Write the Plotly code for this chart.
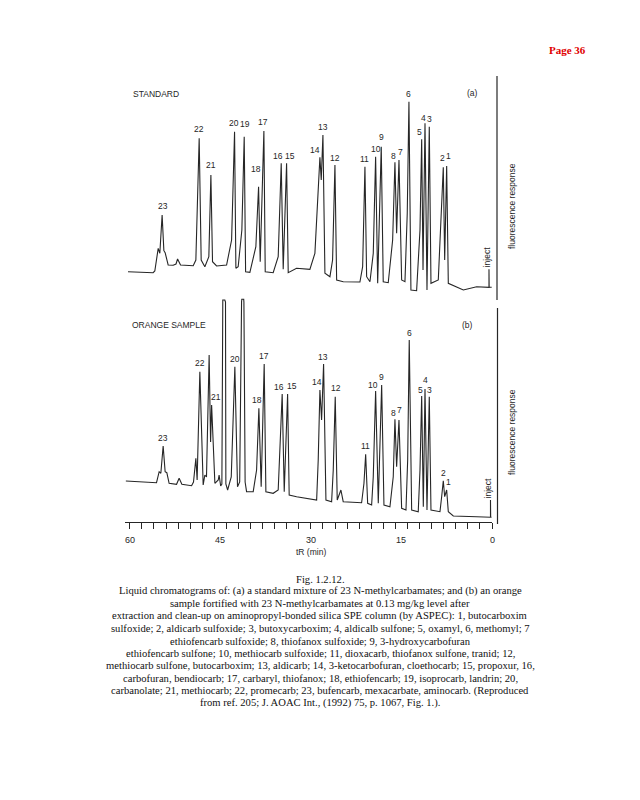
import plotly.graph_objects as go

# the page body has an 8 px margin, so the figure is sized to fit the 640x800 window
OFF = 8
W, H = 640 - 2 * OFF, 800 - 2 * OFF

# ---------------- data ----------------
# (a) STANDARD chromatogram: retention time (min) and response (arb. units)
top_t = [60.3, 56.14, 55.86, 55.3, 55.03, 54.65, 54.36, 54.15, 53.65, 52.82, 52.35, 52.09, 51.6,
         49.5, 49.06, 48.51, 48.18, 47.57, 46.91, 46.57, 46.3, 45.63, 43.97, 43.14, 42.65, 42.43,
         42.05, 41.44, 41.05, 40.82, 40.11, 39.12, 38.67, 38.4, 37.79, 37.57, 36.25, 35.42, 34.92,
         34.59, 34.03, 33.76, 32.38, 30.17, 29.34, 28.79, 28.51, 28.29, 28.01, 27.68, 26.85, 26.41,
         26.02, 25.74, 24.64, 21.88, 21.43, 21.05, 20.77, 20.22, 19.67, 19.28, 18.94, 18.35, 18.02,
         17.19, 16.46, 16.08, 15.8, 15.41, 14.97, 14.42, 14.04, 13.76, 13.43, 12.49, 11.93, 11.65,
         11.43, 11.1, 10.77, 10.39, 10.11, 8.9, 8.34, 8.07, 7.84, 7.51, 7.24, 5.3, 4.75, 2.54, 0.88,
         0.5, 0.5, 0.47, 0.05]
top_r = [24.3, 23.3, 25.0, 47.7, 42.7, 81.0, 45.3, 43.3, 31.0, 30.7, 32.0, 37.0, 31.0,
         30.3, 36.0, 157.7, 36.0, 29.3, 39.3, 121.0, 34.3, 30.0, 31.0, 56.0, 164.3, 27.7,
         29.3, 66.0, 159.3, 24.3, 23.7, 49.3, 109.3, 34.3, 165.0, 24.3, 23.3, 39.3, 132.7,
         26.7, 132.7, 23.3, 27.7, 26.7, 42.7, 116.0, 138.7, 116.0, 161.0, 22.7, 19.3, 36.0,
         131.0, 16.0, 14.3, 14.0, 29.3, 129.3, 19.3, 14.3, 42.7, 139.3, 12.7, 149.3, 14.3,
         13.3, 56.0, 133.7, 62.7, 136.0, 16.0, 14.3, 82.7, 194.3, 6.0, 5.3, 66.0, 156.7,
         26.0, 172.7, 6.0, 169.3, 12.7, 16.0, 82.7, 128.7, 36.0, 130.0, 12.7, 7.7, 6.0, 9.3, 8.7,
         8.7, 26.7, 8.7, 8.7]

# (b) ORANGE SAMPLE chromatogram
bot_t = [60.66, 55.58, 55.14, 54.86, 54.48, 54.15, 53.87, 53.49, 52.26, 51.83, 51.38, 49.77,
         49.45, 49.06, 48.85, 48.4, 47.85, 47.57, 47.3, 46.86, 46.62, 46.45, 45.91, 45.35, 45.21,
         44.95, 44.75, 44.7, 44.6, 44.26, 44.15, 44.09, 43.8, 43.2, 42.6, 42.16, 41.8, 41.49,
         41.45, 41.13, 41.1, 40.9, 40.66, 39.56, 39.0, 38.62, 38.24, 37.74, 37.46, 36.25, 35.42,
         34.76, 34.42, 33.86, 33.6, 32.37, 29.05, 28.79, 28.51, 28.23, 27.9, 27.51, 26.57, 26.3,
         25.97, 25.64, 25.03, 24.65, 21.6, 21.21, 20.93, 20.6, 19.94, 19.67, 19.28, 18.84, 18.28,
         17.9, 16.91, 16.36, 16.08, 15.8, 15.41, 14.97, 14.25, 13.97, 13.71, 13.31, 12.22, 11.93,
         11.65, 11.38, 11.1, 10.77, 10.39, 10.11, 8.62, 8.34, 8.07, 7.84, 7.51, 7.24, 6.41, 2.54,
         0.33, 0.25, 0.25, 0.22, 0.08]
bot_r = [41.0, 39.3, 50.3, 48.7, 76.0, 50.3, 49.3, 38.7, 37.7, 43.7, 37.7, 36.3,
         40.0, 63.7, 42.0, 150.3, 37.0, 47.0, 45.0, 167.0, 80.0, 117.0, 38.7, 42.0, 47.0,
         36.0, 38.0, 220.0, 222.0, 222.0, 220.0, 38.0, 32.0, 45.0, 155.3, 35.3, 40.0, 220.0,
         222.7, 222.7, 220.0, 40.0, 30.3, 30.3, 52.0, 113.7, 35.3, 158.0, 30.3, 28.7, 32.0,
         128.0, 30.3, 128.0, 27.0, 25.3, 22.0, 62.0, 132.0, 102.0, 158.0, 22.0, 20.3, 52.0,
         125.3, 22.0, 32.0, 20.3, 19.3, 38.7, 67.7, 18.7, 17.0, 45.3, 131.0, 18.7, 137.0,
         17.0, 15.3, 45.3, 102.7, 55.3, 102.0, 13.7, 12.0, 62.0, 182.0, 12.0, 10.3, 52.0,
         126.0, 15.3, 133.0, 12.0, 125.3, 12.0, 10.3, 25.3, 41.3, 25.3, 32.0, 10.3, 6.0, 5.3,
         4.7, 4.7, 22.0, 4.7, 4.7]

# peak labels
top_labels = ["23", "22", "21", "20", "19", "18", "17", "16", "15", "14", "13", "12",
              "11", "10", "9", "8", "7", "6", "5", "4", "3", "2", "1"]
top_label_t = [54.58, 48.51, 46.52, 42.71, 40.94, 39.12, 37.91, 35.42, 33.48, 29.34, 28.06, 26.02,
               21.05, 19.27, 18.28, 16.36, 15.13, 13.76, 11.93, 11.39, 10.28, 8.24, 7.24]
top_label_r = [90, 166.7, 131, 173.3, 171.7, 126.7, 174.3, 140, 140, 146, 168.7, 138.3,
               137, 146.7, 159.3, 140.3, 144.3, 201.7, 164.3, 178.3, 176.7, 138.3, 140]

bot_labels = ["23", "22", "21", "20", "18", "17", "16", "15", "14", "13", "12",
              "11", "10", "9", "8", "7", "6", "5", "4", "3", "2", "1"]
bot_label_t = [54.48, 48.4, 45.75, 42.6, 39.0, 37.74, 35.25, 33.2, 29.05, 27.96, 25.91,
               20.93, 19.67, 18.28, 16.24, 15.25, 13.71, 11.82, 11.1, 10.28, 8.07, 7.24]
bot_label_r = [83.7, 158.7, 124.7, 163, 122, 166.3, 134.7, 136, 139.7, 165.3, 134.3,
               76, 137, 145.3, 109.3, 112, 189.3, 132, 142, 132, 49.3, 39.7]

inject_t_top, inject_r_top = 0.5, 26.7
inject_t_bot, inject_r_bot = 0.25, 22.0

x_label_vals = [60, 45, 30, 15, 0]
x_minor_ticks = [60 - 2 * i for i in range(31)]

caption_lines = [
    "Fig. 1.2.12.",
    "Liquid chromatograms of: (a) a standard mixture of 23 N-methylcarbamates; and (b) an orange",
    "sample fortified with 23 N-methylcarbamates at 0.13 mg/kg level after",
    "extraction and clean-up on aminopropyl-bonded silica SPE column (by ASPEC): 1, butocarboxim",
    "sulfoxide; 2, aldicarb sulfoxide; 3, butoxycarboxim; 4, aldicalb sulfone; 5, oxamyl, 6, methomyl; 7",
    "ethiofencarb sulfoxide; 8, thiofanox sulfoxide; 9, 3-hydroxycarbofuran",
    "ethiofencarb sulfone; 10, methiocarb sulfoxide; 11, dioxacarb, thiofanox sulfone, tranid; 12,",
    "methiocarb sulfone, butocarboxim; 13, aldicarb; 14, 3-ketocarbofuran, cloethocarb; 15, propoxur, 16,",
    "carbofuran, bendiocarb; 17, carbaryl, thiofanox; 18, ethiofencarb; 19, isoprocarb, landrin; 20,",
    "carbanolate; 21, methiocarb; 22, promecarb; 23, bufencarb, mexacarbate, aminocarb. (Reproduced",
    "from ref. 205; J. AOAC Int., (1992) 75, p. 1067, Fig. 1.).",
]

# ---------------- figure ----------------
SANS = "Liberation Sans, Arial, sans-serif"
SERIF = "Liberation Serif, Times New Roman, serif"
INK = "#262626"


def px(x):
    """window pixel x -> paper fraction"""
    return (x - OFF) / W


def py(y):
    """window pixel y -> paper fraction"""
    return 1 - (y - OFF) / H


def note(**kw):
    d = dict(showarrow=False, xanchor="center", yanchor="middle")
    d.update(kw)
    return d


fig = go.Figure()
fig.add_trace(go.Scatter(x=top_t, y=top_r, xaxis="x", yaxis="y2", mode="lines",
                         line=dict(color=INK, width=1.1), hoverinfo="skip", showlegend=False))
fig.add_trace(go.Scatter(x=bot_t, y=bot_r, xaxis="x", yaxis="y", mode="lines",
                         line=dict(color=INK, width=1.1), hoverinfo="skip", showlegend=False))

ann = []
lab_font = dict(family=SANS, size=8.5, color=INK)
for s, t, r in zip(top_labels, top_label_t, top_label_r):
    ann.append(note(x=t, y=r, xref="x", yref="y2", text=s, font=lab_font))
for s, t, r in zip(bot_labels, bot_label_t, bot_label_r):
    ann.append(note(x=t, y=r, xref="x", yref="y", text=s, font=lab_font))

# inject labels
ann.append(note(x=inject_t_top, y=inject_r_top, xref="x", yref="y2", text="inject", textangle=-90,
                font=lab_font, yanchor="bottom", xshift=-2))
ann.append(note(x=inject_t_bot, y=inject_r_bot, xref="x", yref="y", text="inject", textangle=-90,
                font=lab_font, yanchor="bottom", xshift=-2))

# x tick labels
for v in x_label_vals:
    ann.append(note(x=v, y=py(540), xref="x", yref="paper", text=str(v),
                    font=dict(family=SANS, size=9, color=INK)))
ann.append(note(x=px(311), y=py(552), xref="paper", yref="paper", text="tR (min)",
                font=dict(family=SANS, size=8.5, color=INK)))

# panel titles
ann.append(note(x=px(131), y=py(94), xref="paper", yref="paper", text="STANDARD", xanchor="left",
                font=dict(family=SANS, size=8.5, color=INK)))
ann.append(note(x=px(472), y=py(93), xref="paper", yref="paper", text="(a)",
                font=dict(family=SANS, size=8.5, color=INK)))
ann.append(note(x=px(130), y=py(325), xref="paper", yref="paper", text="ORANGE SAMPLE", xanchor="left",
                font=dict(family=SANS, size=8.5, color=INK)))
ann.append(note(x=px(467), y=py(325), xref="paper", yref="paper", text="(b)",
                font=dict(family=SANS, size=8.5, color=INK)))

# side axis titles
for yc in (206, 432):
    ann.append(note(x=px(512), y=py(yc), xref="paper", yref="paper", text="fluorescence response",
                    textangle=-90, font=dict(family=SANS, size=8.5, color=INK)))

# page number
ann.append(note(x=px(567), y=py(50), xref="paper", yref="paper", text="<b>Page 36</b>",
                font=dict(family=SERIF, size=11, color="#e00000")))

# caption
for i, line in enumerate(caption_lines):
    ann.append(note(x=px(320), y=py(579 + i * 12.4), xref="paper", yref="paper", text=line,
                    font=dict(family=SERIF, size=10.6, color="#111")))

shapes = [
    dict(type="line", xref="paper", yref="paper", x0=px(497), x1=px(497), y0=py(76), y1=py(300),
         line=dict(color=INK, width=1.2)),
    dict(type="line", xref="paper", yref="paper", x0=px(497.5), x1=px(497.5), y0=py(308), y1=py(524),
         line=dict(color=INK, width=1.2)),
]

fig.update_layout(
    width=W, height=H, autosize=False,
    margin=dict(l=0, r=0, t=0, b=0),
    paper_bgcolor="white", plot_bgcolor="white",
    showlegend=False,
    xaxis=dict(domain=[px(125), px(492)], range=[60.8, 0], anchor="y",
               showline=True, linecolor=INK, linewidth=1.3, mirror=False,
               tickvals=x_minor_ticks, ticks="outside", ticklen=6, tickwidth=1.2, tickcolor=INK,
               showticklabels=False, showgrid=False, zeroline=False, fixedrange=True),
    yaxis=dict(domain=[py(522), py(296)], range=[0, 226], visible=False, fixedrange=True),
    yaxis2=dict(domain=[py(296), py(76)], range=[0, 220], visible=False, fixedrange=True),
    annotations=ann,
    shapes=shapes,
)

fig.write_html("out.html")
